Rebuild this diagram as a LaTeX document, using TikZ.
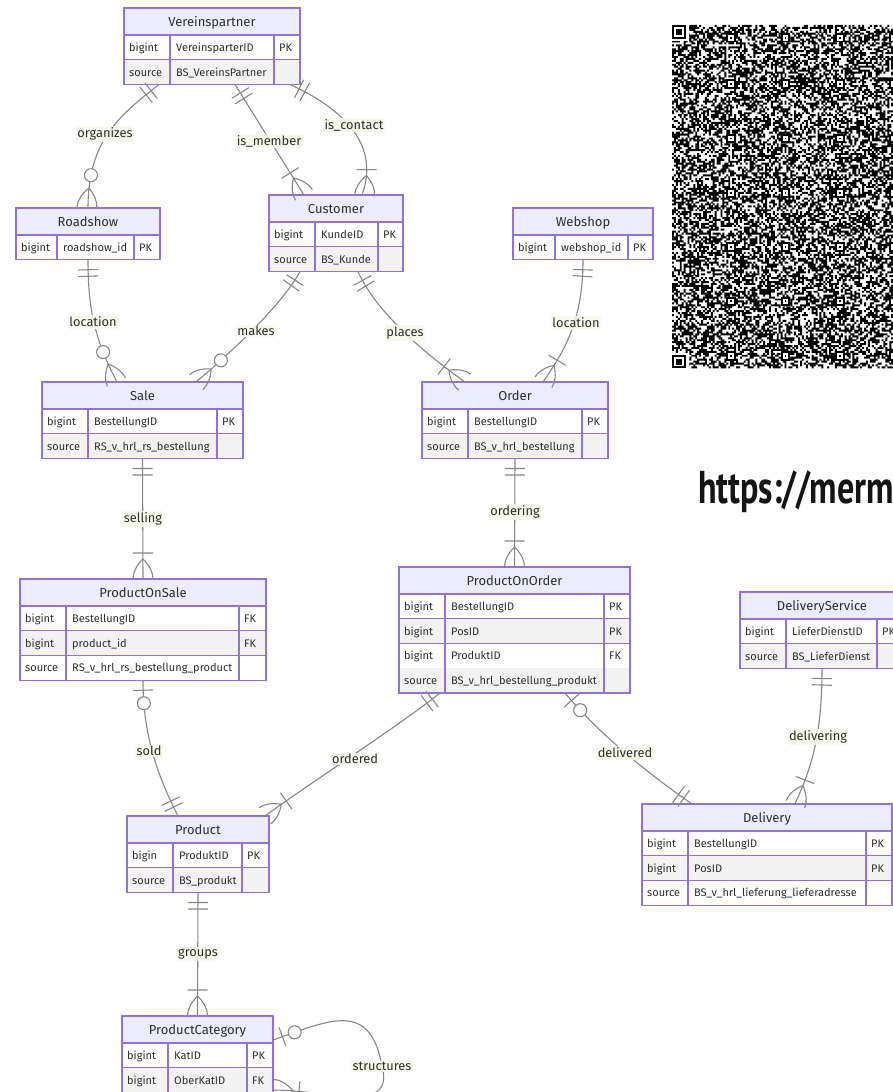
\documentclass[tikz,border=0pt]{standalone}
\usepackage{fontspec}
\usetikzlibrary{decorations.markings}
\newfontfamily\erfont{Fira Sans}
\newfontfamily\urlfont[FakeStretch=0.74]{PT Sans}
\definecolor{hdrcol}{HTML}{ECECFF}
\definecolor{tabpurple}{HTML}{9370DB}
\definecolor{rowcol}{HTML}{F2F2F2}
\definecolor{txtcol}{HTML}{2E2E2E}
\definecolor{edgecol}{HTML}{878787}
\definecolor{lblcol}{HTML}{F7F9EA}
\newcommand\cellfont{\erfont\fontsize{11}{12}\selectfont}
\newcommand\titlefont{\erfont\fontsize{13}{14}\selectfont}
\newcommand\lblfont{\erfont\fontsize{12.8}{14}\selectfont}
% pseudo random QR pattern
\newcount\qrseed \newcount\qrtmp \newcount\qrr \newcount\qrc
\newdimen\qrx \newdimen\qry
\def\qrrows{177}\def\qrcols{116}
\def\qrnext{\qrtmp=\qrseed \multiply\qrtmp by 75 \advance\qrtmp by 74 \qrseed=\qrtmp
  \divide\qrtmp by 65537 \multiply\qrtmp by 65537 \advance\qrseed by -\qrtmp}
\def\qrrow{%
  \ifnum\qrc<\qrcols
    \qrnext
    \ifnum\qrseed>30000
      \qrx=1.94pt \multiply\qrx by \qrc \advance\qrx by 672pt
      \pgfpathrectangle{\pgfqpoint{\qrx}{\qry}}{\pgfqpoint{1.96pt}{1.96pt}}%
    \fi
    \advance\qrc by 1
    \expandafter\qrrow
  \fi}
\def\qrall{%
  \ifnum\qrr<\qrrows
    \qrc=0
    \qry=1.94pt \multiply\qry by \qrr \advance\qry by 26.94pt \qry=-\qry
    \qrrow
    \advance\qrr by 1
    \expandafter\qrall
  \fi}
\newcommand\crowfoot{\draw[mk] (20,-10) .. controls (13.33,-10) and (6.67,-6.67) .. (0,0) .. controls (6.67,6.67) and (13.33,10) .. (20,10);}
\newcommand\onebar{\draw[mk] (0,-10) -- (0,10);}
\newcommand\zerocirc{\draw[mk,fill=white] (0,0) circle[radius=6.5];}
\tikzset{
  tabline/.style={draw=tabpurple, line width=1.1pt},
  tabborder/.style={draw=tabpurple, line width=1.3pt, inner sep=0pt, outer sep=0pt, anchor=north west},
  celltext/.style={font=\cellfont, text=txtcol, inner sep=0pt, anchor=base west},
  titletext/.style={font=\titlefont, text=txtcol, inner sep=0pt, anchor=base},
  edge/.style={draw=edgecol, line width=1.1pt},
  mk/.style={draw=edgecol, line width=1.1pt},
  lbl/.style={font=\lblfont, text=txtcol, fill=lblcol, fill opacity=0.85, text opacity=1, inner xsep=1.5pt, inner ysep=1.5pt},
  s11/.style={postaction={decorate,decoration={markings,
     mark=at position 10pt with {\onebar}, mark=at position 16.5pt with {\onebar}}}},
  s01/.style={postaction={decorate,decoration={markings,
     mark=at position 10pt with {\onebar}, mark=at position 23pt with {\zerocirc}}}},
  e11/.style={postaction={decorate,decoration={markings,
     mark=at position -10pt with {\onebar}, mark=at position -16.5pt with {\onebar}}}},
  e1n/.style={postaction={decorate,decoration={markings,
     mark=at position -26pt with {\onebar}, mark=at position -20pt with {\crowfoot}}}},
  e0n/.style={postaction={decorate,decoration={markings,
     mark=at position -33pt with {\zerocirc}, mark=at position -20pt with {\crowfoot}}}},
}
% #1 name #2 left #3 top #4 col1 #5 col2 #6 right #7 title #8 rows
\newcommand\ertable[8]{%
  \fill[hdrcol] (#2,#3) rectangle (#6,#3+27);
  \node[titletext] (#1-title) at ({(#2+#6)/2},#3+18.5) {#7};
  \foreach \ty/\nm/\ky [count=\ri] in {#8}{%
    \pgfmathsetmacro\rt{#3+27+(\ri-1)*24.75}%
    \pgfmathsetmacro\rb{\rt+24.75}%
    \ifodd\ri \def\rf{white}\else \def\rf{rowcol}\fi
    \fill[fill=\rf] (#2,\rt) rectangle (#6,\rb);
    \draw[tabline] (#2,\rb) -- (#6,\rb);
    \node[celltext] (#1-\ri-a) at (#2+5,{(\rt+\rb)/2+4}) {\ty};
    \node[celltext] (#1-\ri-b) at (#4+6,{(\rt+\rb)/2+4}) {\nm};
    \node[celltext] (#1-\ri-c) at (#5+5,{(\rt+\rb)/2+4}) {\ky};
    \xdef\tbot{\rb}%
  }%
  \draw[tabline] (#2,#3+27) -- (#6,#3+27);
  \draw[tabline] (#4,#3+27) -- (#4,\tbot) (#5,#3+27) -- (#5,\tbot);
  \pgfmathsetmacro\tht{\tbot-(#3)}%
  \node[tabborder, minimum width={(#6-#2)*1pt}, minimum height={\tht*1pt}] (#1) at (#2,#3) {};
}
\begin{document}
\begin{tikzpicture}[x=1pt,y=-1pt]
\useasboundingbox (0,0) rectangle (893,1092);
\clip (0,0) rectangle (893,1092);
\fill[white] (0,0) rectangle (893,1092);

% QR code
\begin{scope}
\pgfsetfillcolor{black}
\qrseed=12345 \qrr=0
\qrall
\pgfusepath{fill}
\end{scope}
\foreach \r/\c in {25/0, 354.8/0} {
  \fill[white] (672+\c,\r-1.94) rectangle ++(17.46,17.46);
  \fill[black] (672+\c,\r) rectangle ++(13.58,13.58);
  \fill[white] (672+\c+1.94,\r+1.94) rectangle ++(9.7,9.7);
  \fill[black] (672+\c+3.88,\r+3.88) rectangle ++(5.82,5.82);
}
\foreach \ar in {6,30,58,86,114,142,170} {
  \foreach \ac in {30,58,86,114} {
    \fill[black] (672+\ac*1.94-3.88,25+\ar*1.94-3.88) rectangle ++(9.7,9.7);
    \fill[white] (672+\ac*1.94-1.94,25+\ar*1.94-1.94) rectangle ++(5.82,5.82);
    \fill[black] (672+\ac*1.94,25+\ar*1.94) rectangle ++(1.94,1.94);
  }
}
\node[font=\urlfont\bfseries\fontsize{46}{50}\selectfont, text=black!92, inner sep=0pt, anchor=base west] (url) at (698,503) {https://merm};

% tables
\ertable{vp}{124}{8}{170}{274}{300}{Vereinspartner}{bigint/VereinsparterID/PK, source/BS\_VereinsPartner/}
\ertable{rs}{16}{208}{57}{134}{160}{Roadshow}{bigint/roadshow\_id/PK}
\ertable{cu}{269}{195}{315}{378}{403}{Customer}{bigint/KundeID/PK, source/BS\_Kunde/}
\ertable{ws}{513}{208}{555}{628}{653}{Webshop}{bigint/webshop\_id/PK}
\ertable{sa}{42}{382}{88}{217}{243}{Sale}{bigint/BestellungID/PK, source/RS\_v\_hrl\_rs\_bestellung/}
\ertable{ord}{422}{382}{468}{582}{608}{Order}{bigint/BestellungID/PK, source/BS\_v\_hrl\_bestellung/}
\ertable{pos}{20}{579}{66}{239}{266}{ProductOnSale}{bigint/BestellungID/FK, bigint/product\_id/FK, source/RS\_v\_hrl\_rs\_bestellung\_product/}
\ertable{poo}{399}{567}{445}{604}{630}{ProductOnOrder}{bigint/BestellungID/PK, bigint/PosID/PK, bigint/ProduktID/FK, source/BS\_v\_hrl\_bestellung\_produkt/}
\ertable{ds}{740}{592}{786}{877}{904}{DeliveryService}{bigint/LieferDienstID/PK, source/BS\_LieferDienst/}
\ertable{dl}{642}{804}{688}{866}{892}{Delivery}{bigint/BestellungID/PK, bigint/PosID/PK, source/BS\_v\_hrl\_lieferung\_lieferadresse/}
\ertable{pr}{127}{816}{173}{242}{269}{Product}{bigin/ProduktID/PK, source/BS\_produkt/}
\ertable{pc}{122}{1016}{168}{247}{273}{ProductCategory}{bigint/KatID/PK, bigint/OberKatID/FK, {}/{}/{}}

% relationships
\draw[edge, s11, e0n] ([xshift=35pt]vp.south west) .. controls (120,115) and (88,140) .. ([xshift=72pt]rs.north west);
\draw[edge, s11, e1n] ([xshift=111pt]vp.south west) -- ([xshift=35pt]cu.north west);
\draw[edge, s11, e1n] ([xshift=166pt]vp.south west) .. controls (335,105) and (382,140) .. ([xshift=93pt]cu.north west);
\draw[edge, s11, e0n] (rs.south) .. controls (88,310) and (95,340) .. ([xshift=75pt]sa.north west);
\draw[edge, s11, e0n] ([xshift=31pt]cu.south west) .. controls (285,300) and (240,345) .. ([xshift=154pt]sa.north west);
\draw[edge, s11, e1n] ([xshift=89pt]cu.south west) .. controls (375,310) and (420,350) .. ([xshift=43pt]ord.north west);
\draw[edge, s11, e1n] (ws.south) .. controls (583,320) and (565,350) .. ([xshift=121pt]ord.north west);
\draw[edge, s11, e1n] (sa.south) -- (pos.north);
\draw[edge, s11, e1n] (ord.south) -- (poo.north);
\draw[edge, s01, e11] (pos.south) .. controls (143,740) and (160,780) .. ([xshift=51pt]pr.north west);
\draw[edge, s11, e1n] ([xshift=41pt]poo.south west) .. controls (400,725) and (300,790) .. ([xshift=138pt]pr.north west);
\draw[edge, s01, e11] ([xshift=166pt]poo.south west) .. controls (600,735) and (650,775) .. ([xshift=50pt]dl.north west);
\draw[edge, s11, e1n] (ds.south) .. controls (822,740) and (810,770) .. ([xshift=153pt]dl.north west);
\draw[edge, s11, e1n] (pr.south) -- (pc.north);
\draw[edge, s01, e1n] ([yshift=-24pt]pc.north east) .. controls (330,1020) and (370,1000) .. (382,1066) .. controls (395,1115) and (330,1090) .. ([yshift=-74pt]pc.north east);

% labels
\node[lbl] (l1) at (105,134) {organizes};
\node[lbl] (l2) at (269,141) {is\_member};
\node[lbl] (l3) at (354,125) {is\_contact};
\node[lbl] (l4) at (93,322) {location};
\node[lbl] (l5) at (256,331) {makes};
\node[lbl] (l6) at (405,333) {places};
\node[lbl] (l7) at (576,323) {location};
\node[lbl] (l8) at (143,519) {selling};
\node[lbl] (l9) at (515,512) {ordering};
\node[lbl] (l10) at (149,751) {sold};
\node[lbl] (l11) at (355,759) {ordered};
\node[lbl] (l12) at (625,753) {delivered};
\node[lbl] (l13) at (818,737) {delivering};
\node[lbl] (l14) at (198,954) {groups};
\node[lbl] (l15) at (382,1066) {structures};
\end{tikzpicture}
\end{document}
